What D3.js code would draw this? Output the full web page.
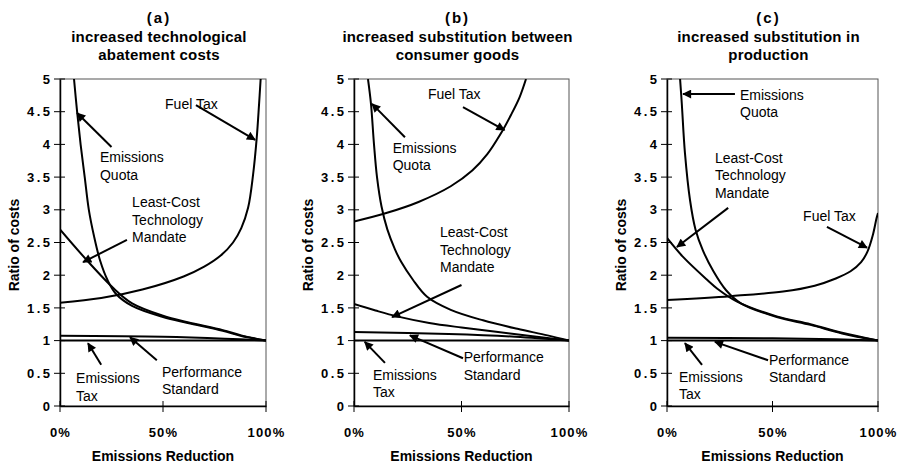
<!DOCTYPE html>
<html>
<head>
<meta charset="utf-8">
<script src="https://cdn.jsdelivr.net/npm/d3@7"></script>
<style>
  body { margin: 0; background: #fff; }
  svg { font-family: "Liberation Sans", Arial, sans-serif; }
  .curve { fill: none; stroke: #000; stroke-width: 2; }
  .arrow { stroke: #000; stroke-width: 2; }
  .lbl { font-size: 14px; }
  .tick-lbl { font-size: 13px; font-weight: bold; }
  .ttl { font-size: 14px; font-weight: bold; }
  .head { font-size: 15px; font-weight: bold; }
</style>
</head>
<body>
<svg id="chart" width="902" height="464"></svg>
<script>
// x = emissions reduction (%), y = ratio of costs
var ratioTicks = [0, 0.5, 1, 1.5, 2, 2.5, 3, 3.5, 4, 4.5, 5];
var reductionTicks = [0, 50, 100];

// (a) increased technological abatement costs
var quotaA = [[6.8,5.0],[8.3,4.5],[10,4.0],[12,3.5],[14,3.0],[16.5,2.6],[19.5,2.22],[23,1.93],[27,1.72],[35,1.53],[50,1.36],[62,1.27],[79,1.15],[88,1.07],[100,1.0]];
var lctmA  = [[0,2.7],[13,2.23],[26,1.8],[35,1.57],[50,1.38],[62,1.28],[79,1.16],[88,1.08],[100,1.0]];
var fuelA  = [[0,1.58],[20,1.65],[40,1.78],[60,1.98],[70,2.13],[78,2.3],[84,2.5],[88,2.72],[91.3,3.03],[93.7,3.53],[95.5,4.1],[96.6,4.6],[97.4,5.0]];
var perfA  = [[0,1.075],[50,1.06],[80,1.03],[100,1.0]];
var taxA   = [[0,1.0],[100,1.0]];

// (b) increased substitution between consumer goods
var quotaB = [[6.5,5.0],[7.9,4.62],[9.3,4.0],[10.7,3.5],[12.8,3.05],[15.5,2.7],[19,2.4],[22,2.2],[27.4,1.93],[34,1.67],[45,1.47],[60,1.31],[76,1.18],[90,1.08],[100,1.0]];
var fuelB  = [[0,2.82],[15,2.95],[30,3.12],[45,3.36],[55,3.6],[62,3.85],[68,4.15],[73,4.45],[77,4.72],[80,5.0]];
var lctmB  = [[0,1.56],[10,1.46],[20,1.37],[35,1.27],[50,1.2],[67,1.13],[85,1.06],[100,1.0]];
var perfB  = [[0,1.13],[44,1.1],[75,1.06],[100,1.0]];
var taxB   = [[0,1.0],[100,1.0]];

// (c) increased substitution in production
var quotaC = [[6.2,5.0],[7,4.63],[8.5,3.87],[10.9,3.15],[13.5,2.7],[17,2.38],[22,2.06],[28,1.77],[35,1.57],[52,1.36],[68,1.24],[83,1.11],[100,1.0]];
var lctmC  = [[0,2.57],[7.6,2.28],[19,1.93],[24,1.79],[33,1.6],[52,1.37],[68,1.25],[83,1.12],[100,1.0]];
var fuelC  = [[0,1.62],[30,1.68],[55,1.75],[70,1.84],[80,1.95],[87,2.06],[92,2.2],[95,2.36],[97.6,2.62],[99.3,2.87],[100,2.95]];
var perfC  = [[0,1.045],[50,1.035],[80,1.02],[100,1.0]];
var taxC   = [[0,1.0],[100,1.0]];

// annotations: text lines, first baseline at [x,y], arrow from -> to (data units)
var notesA = [
  {text: ["Fuel Tax"], at: [51,4.54], from: [66,4.6], to: [94.7,4.07]},
  {text: ["Emissions","Quota"], at: [19.4,3.73], from: [25,3.96], to: [8.3,4.48]},
  {text: ["Least-Cost","Technology","Mandate"], at: [35,3.04], from: [32.5,2.54], to: [11.2,2.2]},
  {text: ["Emissions","Tax"], at: [7.8,0.35], from: [20,0.63], to: [13.6,0.96]},
  {text: ["Performance","Standard"], at: [49.5,0.45], from: [47,0.7], to: [34,1.05]}
];
var notesB = [
  {text: ["Fuel Tax"], at: [34.4,4.69], from: [50.7,4.57], to: [70,4.22]},
  {text: ["Emissions","Quota"], at: [18,3.87], from: [23.7,4.11], to: [8.4,4.62]},
  {text: ["Least-Cost","Technology","Mandate"], at: [40,2.58], from: [50,1.85], to: [17.7,1.36]},
  {text: ["Emissions","Tax"], at: [8.8,0.4], from: [14.4,0.66], to: [5,0.98]},
  {text: ["Performance","Standard"], at: [51,0.67], from: [50.7,0.73], to: [26,1.08]}
];
var notesC = [
  {text: ["Emissions","Quota"], at: [34.6,4.68], from: [32.2,4.77], to: [7.6,4.77]},
  {text: ["Least-Cost","Technology","Mandate"], at: [22.7,3.72], from: [29,3.03], to: [4.7,2.43]},
  {text: ["Fuel Tax"], at: [64.5,2.83], from: [75.8,2.74], to: [94.8,2.42]},
  {text: ["Emissions","Tax"], at: [5.7,0.37], from: [16.6,0.63], to: [8.5,0.96]},
  {text: ["Performance","Standard"], at: [48.3,0.63], from: [47.9,0.7], to: [22.7,0.98]}
];

var titlesA = ["(a)", "increased technological", "abatement costs"];
var titlesB = ["(b)", "increased substitution between", "consumer goods"];
var titlesC = ["(c)", "increased substitution in", "production"];

var panels = [
  {id: "a", left: 60,  right: 266, titles: titlesA, series: [quotaA, lctmA, fuelA, perfA, taxA], notes: notesA},
  {id: "b", left: 354, right: 569, titles: titlesB, series: [quotaB, fuelB, lctmB, perfB, taxB], notes: notesB},
  {id: "c", left: 667, right: 878, titles: titlesC, series: [quotaC, lctmC, fuelC, perfC, taxC], notes: notesC}
];

var plotTop = 79, plotBottom = 406;
var svg = d3.select("#chart");

var defs = svg.append("defs");
defs.append("marker")
  .attr("id", "head")
  .attr("viewBox", "0 0 10 10")
  .attr("refX", 9).attr("refY", 5)
  .attr("markerWidth", 5).attr("markerHeight", 4.5)
  .attr("markerUnits", "strokeWidth")
  .attr("orient", "auto")
  .append("path").attr("d", "M0,0L10,5L0,10Z").attr("fill", "#000");

panels.forEach(function (p) {
  var x = d3.scaleLinear().domain([0, 100]).range([p.left, p.right]);
  var y = d3.scaleLinear().domain([0, 5]).range([plotBottom, plotTop]);
  var g = svg.append("g");

  defs.append("clipPath").attr("id", "clip-" + p.id)
    .append("rect")
    .attr("x", p.left).attr("y", plotTop)
    .attr("width", p.right - p.left).attr("height", plotBottom - plotTop);

  // frame
  g.append("rect")
    .attr("x", p.left).attr("y", plotTop)
    .attr("width", p.right - p.left).attr("height", plotBottom - plotTop)
    .attr("fill", "none").attr("stroke", "#555").attr("stroke-width", 1);

  // titles
  var cx = (p.left + p.right) / 2 - 4;
  g.selectAll(".head").data(p.titles).enter().append("text")
    .attr("class", "head")
    .attr("x", cx)
    .attr("y", function (d, i) { return 23 + i * 18.5; })
    .attr("text-anchor", "middle")
    .style("letter-spacing", function (d, i) { return i === 0 ? "2px" : "0.2px"; })
    .text(function (d) { return d; });

  // curves
  var line = d3.line()
    .x(function (d) { return x(d[0]); })
    .y(function (d) { return y(d[1]); })
    .curve(d3.curveCatmullRom.alpha(0.5));

  g.append("g").attr("clip-path", "url(#clip-" + p.id + ")")
    .selectAll("path").data(p.series).enter().append("path")
    .attr("class", "curve")
    .attr("d", line);

  // axes
  var yAxis = d3.axisLeft(y).tickValues(ratioTicks).tickSize(0).tickPadding(10)
    .tickFormat(d3.format("~g"));
  var ya = g.append("g").attr("transform", "translate(" + p.left + ",0)").call(yAxis);
  ya.select(".domain").attr("stroke", "#000").attr("stroke-width", 1.5);
  ya.selectAll("text").attr("class", "tick-lbl").attr("fill", "#000")
    .style("letter-spacing", "2.5px").attr("dx", 2.5);

  g.selectAll(".ytk").data(ratioTicks).enter().append("line")
    .attr("class", "ytk")
    .attr("x1", p.left - 6).attr("x2", p.left + 5)
    .attr("y1", function (d) { return y(d); }).attr("y2", function (d) { return y(d); })
    .attr("stroke", "#000").attr("stroke-width", 1);

  var xAxis = d3.axisBottom(x).tickValues(reductionTicks).tickSize(0).tickPadding(22)
    .tickFormat(function (d) { return d + "%"; });
  var xa = g.append("g").attr("transform", "translate(0," + plotBottom + ")").call(xAxis);
  xa.select(".domain").attr("stroke", "#000").attr("stroke-width", 1.5);
  xa.selectAll("text").attr("class", "tick-lbl").attr("fill", "#000")
    .style("letter-spacing", "1.2px");

  g.selectAll(".xtk").data(reductionTicks).enter().append("line")
    .attr("class", "xtk")
    .attr("x1", function (d) { return x(d); }).attr("x2", function (d) { return x(d); })
    .attr("y1", plotBottom - 5).attr("y2", plotBottom + 6)
    .attr("stroke", "#000").attr("stroke-width", 1);

  // axis titles
  g.append("text").attr("class", "ttl")
    .attr("x", cx + 4).attr("y", 461)
    .attr("text-anchor", "middle")
    .text("Emissions Reduction");

  g.append("text").attr("class", "ttl")
    .attr("transform", "translate(" + (p.left - 41) + ",245) rotate(-90)")
    .attr("text-anchor", "middle")
    .text("Ratio of costs");

  // annotations
  p.notes.forEach(function (n) {
    var t = g.append("text").attr("class", "lbl")
      .attr("x", x(n.at[0])).attr("y", y(n.at[1]));
    n.text.forEach(function (s, i) {
      t.append("tspan").attr("x", x(n.at[0])).attr("dy", i === 0 ? 0 : 17.5).text(s);
    });
    g.append("line").attr("class", "arrow")
      .attr("x1", x(n.from[0])).attr("y1", y(n.from[1]))
      .attr("x2", x(n.to[0])).attr("y2", y(n.to[1]))
      .attr("marker-end", "url(#head)");
  });
});
</script>
</body>
</html>
